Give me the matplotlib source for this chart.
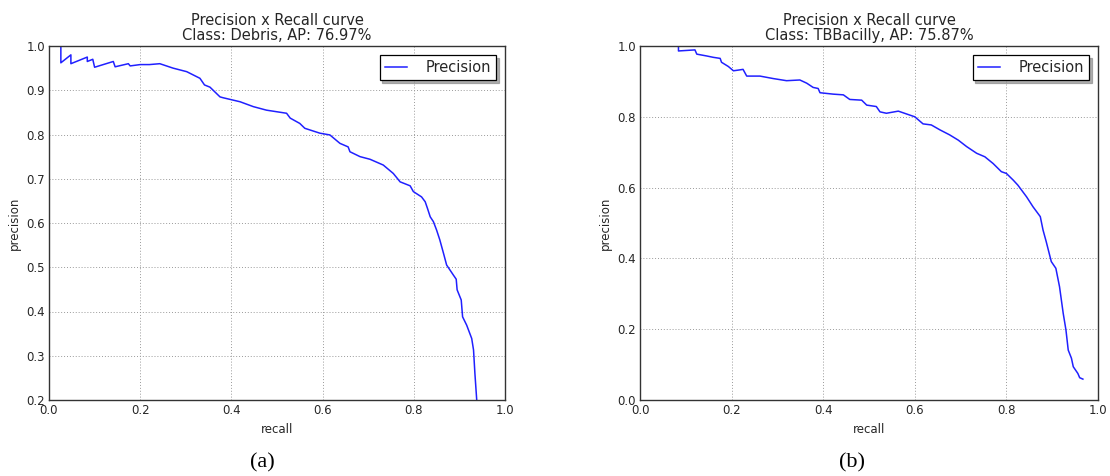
import matplotlib
matplotlib.use("Agg")
import matplotlib.pyplot as plt

# curve (a): class Debris
recall_a = [0.026, 0.026, 0.048, 0.048, 0.084, 0.084, 0.096, 0.100, 0.141, 0.145,
            0.174, 0.178, 0.200, 0.220, 0.243, 0.272, 0.302, 0.331, 0.341, 0.353,
            0.375, 0.382, 0.419, 0.448, 0.477, 0.521, 0.529, 0.550, 0.561, 0.594,
            0.616, 0.638, 0.656, 0.660, 0.682, 0.704, 0.733, 0.755, 0.770, 0.792,
            0.799, 0.817, 0.825, 0.830, 0.836, 0.843, 0.850, 0.857, 0.865, 0.872,
            0.887, 0.893, 0.895, 0.904, 0.907, 0.916, 0.927, 0.931, 0.934, 0.938]
precision_a = [1.000, 0.962, 0.980, 0.960, 0.975, 0.965, 0.970, 0.952, 0.965, 0.953,
               0.960, 0.955, 0.958, 0.958, 0.960, 0.950, 0.942, 0.927, 0.912, 0.907,
               0.885, 0.883, 0.874, 0.863, 0.855, 0.848, 0.837, 0.825, 0.814, 0.803,
               0.799, 0.780, 0.772, 0.761, 0.750, 0.744, 0.731, 0.712, 0.693, 0.684,
               0.671, 0.659, 0.648, 0.633, 0.614, 0.603, 0.584, 0.562, 0.532, 0.505,
               0.482, 0.473, 0.449, 0.426, 0.388, 0.369, 0.339, 0.313, 0.260, 0.200]

# curve (b): class TBBacilly
recall_b = [0.084, 0.084, 0.120, 0.124, 0.145, 0.160, 0.175, 0.178, 0.193, 0.204,
            0.215, 0.225, 0.233, 0.262, 0.291, 0.320, 0.349, 0.364, 0.378, 0.389,
            0.393, 0.422, 0.444, 0.458, 0.484, 0.495, 0.516, 0.524, 0.538, 0.564,
            0.582, 0.600, 0.618, 0.636, 0.655, 0.676, 0.695, 0.713, 0.735, 0.753,
            0.771, 0.789, 0.800, 0.815, 0.825, 0.844, 0.858, 0.874, 0.880, 0.887,
            0.898, 0.908, 0.916, 0.924, 0.930, 0.935, 0.942, 0.946, 0.956, 0.960,
            0.967]
precision_b = [0.998, 0.986, 0.989, 0.977, 0.972, 0.968, 0.965, 0.954, 0.942, 0.930,
               0.932, 0.934, 0.915, 0.915, 0.908, 0.902, 0.904, 0.895, 0.883, 0.880,
               0.868, 0.864, 0.862, 0.849, 0.847, 0.833, 0.829, 0.814, 0.810, 0.816,
               0.808, 0.800, 0.780, 0.777, 0.763, 0.749, 0.734, 0.716, 0.697, 0.687,
               0.668, 0.645, 0.640, 0.621, 0.607, 0.574, 0.546, 0.518, 0.480, 0.447,
               0.391, 0.372, 0.320, 0.245, 0.198, 0.141, 0.118, 0.094, 0.075, 0.063,
               0.059]

titles = ["Precision x Recall curve\nClass: Debris, AP: 76.97%",
          "Precision x Recall curve\nClass: TBBacilly, AP: 75.87%"]
panel_labels = ["(a)", "(b)"]

W, H = 1110, 476
fig = plt.figure(figsize=(W / 100, H / 100), dpi=100)
fig.patch.set_facecolor("white")

txt = "#262626"
ax_a = fig.add_axes([49 / W, 76 / H, 456 / W, 354 / H])
ax_b = fig.add_axes([640 / W, 76 / H, 458 / W, 354 / H])

setups = [
    (ax_a, recall_a, precision_a, (0.2, 1.0), [0.2, 0.3, 0.4, 0.5, 0.6, 0.7, 0.8, 0.9, 1.0]),
    (ax_b, recall_b, precision_b, (0.0, 1.0), [0.0, 0.2, 0.4, 0.6, 0.8, 1.0]),
]

for i, (ax, r, p, ylim, yt) in enumerate(setups):
    ax.plot(r, p, color="#2020ff", lw=1.1, label="Precision")
    ax.set_xlim(0, 1)
    ax.set_ylim(*ylim)
    ax.set_xticks([0.0, 0.2, 0.4, 0.6, 0.8, 1.0])
    ax.set_yticks(yt)
    ax.set_xticklabels(["%.1f" % v for v in [0.0, 0.2, 0.4, 0.6, 0.8, 1.0]])
    ax.set_yticklabels(["%.1f" % v for v in yt])
    ax.tick_params(length=0, labelsize=8.5, colors=txt, pad=3)
    ax.grid(True, linestyle=(0, (1, 2)), color="#9a9a9a", lw=0.7)
    for s in ax.spines.values():
        s.set_color("#333333")
        s.set_linewidth(1.0)
    ax.set_xlabel("recall", fontsize=8.5, color=txt, labelpad=4)
    ax.set_ylabel("precision", fontsize=8.5, color=txt, labelpad=4)
    ax.set_title(titles[i], fontsize=10.5, color=txt, pad=4, linespacing=1.05)
    leg = ax.legend(loc="upper right", fontsize=10.5, fancybox=False,
                    shadow={"color": "#8c8c8c", "alpha": 0.7},
                    handlelength=1.5, handletextpad=1.3,
                    borderpad=0.35, borderaxespad=0.6)
    leg.get_frame().set_edgecolor("black")
    leg.get_frame().set_linewidth(0.9)
    for t in leg.get_texts():
        t.set_color(txt)

fig.text(262 / W, 1 - 463 / H, panel_labels[0], family="Liberation Serif",
         fontsize=16, ha="center", va="center", color="black")
fig.text(852 / W, 1 - 463 / H, panel_labels[1], family="Liberation Serif",
         fontsize=16, ha="center", va="center", color="black")

fig.savefig("out.png", dpi=100, facecolor="white")
